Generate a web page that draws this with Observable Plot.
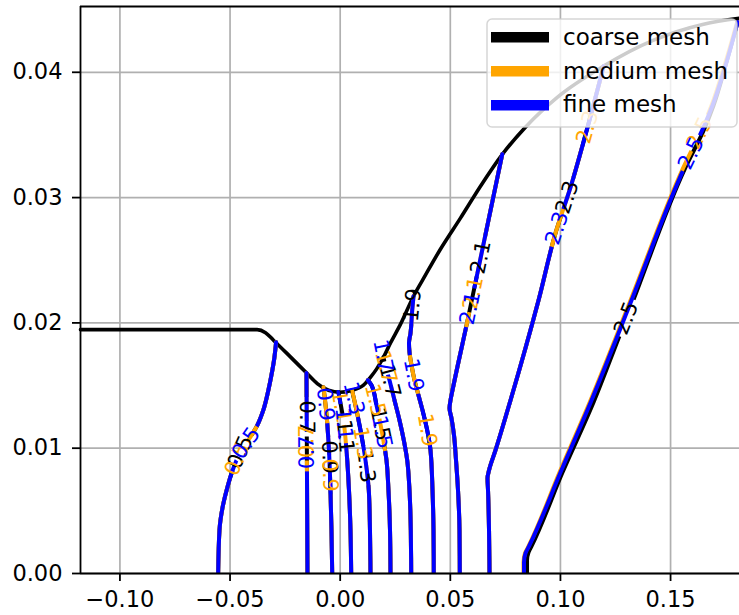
<!DOCTYPE html>
<html>
<head>
<meta charset="utf-8">
<script src="https://cdn.jsdelivr.net/npm/d3@7"></script>
<script src="https://cdn.jsdelivr.net/npm/@observablehq/plot@0.6"></script>
<style>
  body { margin: 0; background: #fff; }
  svg { display: block; }
</style>
</head>
<body>
<div id="chart"></div>
<script>
// Axis extents and ticks
const xDomain = [-0.1179, 0.1813];
const yDomain = [0, 0.04525];
const xTicks = [-0.10, -0.05, 0.00, 0.05, 0.10, 0.15];
const xTickLabels = ["−0.10", "−0.05", "0.00", "0.05", "0.10", "0.15"];
const yTicks = [0.00, 0.01, 0.02, 0.03, 0.04];
const yTickLabels = ["0.00", "0.01", "0.02", "0.03", "0.04"];

// Meshes compared in the legend
const meshNames = ["coarse mesh", "medium mesh", "fine mesh"];
const meshColors = ["black", "orange", "blue"];

// Nozzle wall (x, r)
const wall = [
  [-0.1179, 0.01946], [-0.0377, 0.01946], [-0.0339, 0.01922], [-0.0303, 0.01862],
  [-0.0226, 0.01729], [-0.0150, 0.01596], [-0.0104, 0.01516], [-0.0053, 0.01463],
  [0.0000, 0.01447], [0.0047, 0.01459], [0.0106, 0.01503], [0.0138, 0.01567],
  [0.0165, 0.01631], [0.0192, 0.01710], [0.0228, 0.01838], [0.0274, 0.01990],
  [0.0333, 0.02213], [0.0387, 0.02381], [0.0455, 0.02588], [0.0546, 0.02836],
  [0.0637, 0.03091], [0.0737, 0.03347], [0.0841, 0.03562], [0.0987, 0.03802],
  [0.1196, 0.04049], [0.1423, 0.04256], [0.1650, 0.04384], [0.1813, 0.04432]
];

// Mach number iso-lines (x, r), ordered from the axis up to the wall
const mach05 = [[-0.0554, 0], [-0.0548, 0.00346], [-0.0532, 0.00545], [-0.0512, 0.00689], [-0.0485, 0.00840],
  [-0.0449, 0.00984], [-0.0408, 0.01088], [-0.0376, 0.01184], [-0.0349, 0.01304], [-0.0326, 0.01463],
  [-0.0313, 0.01575], [-0.0299, 0.01719], [-0.0291, 0.01845]];
const mach07 = [[-0.01485, 0], [-0.01508, 0.00824], [-0.0153, 0.0160]];
const mach09 = [[-0.00363, 0], [-0.00395, 0.00346], [-0.00441, 0.00664], [-0.00509, 0.00984],
  [-0.00599, 0.01223], [-0.00713, 0.01423], [-0.00758, 0.01487]];
const mach11 = [[0.0050, 0], [0.00468, 0.00346], [0.0040, 0.00664], [0.00286, 0.00984],
  [0.0015, 0.01223], [-0.0001, 0.01383], [-0.0008, 0.01448]];
const mach13 = [[0.01376, 0], [0.01353, 0.00346], [0.0130, 0.00664], [0.01149, 0.00904],
  [0.00922, 0.01144], [0.0074, 0.01304], [0.00536, 0.01463]];
const mach15 = [[0.02284, 0], [0.02262, 0.00346], [0.02193, 0.00664], [0.02103, 0.00904],
  [0.01921, 0.01104], [0.01649, 0.01343], [0.01421, 0.01503], [0.01262, 0.01543]];
const mach17 = [[0.03224, 0], [0.03206, 0.00346], [0.03147, 0.00664], [0.03043, 0.00904],
  [0.02888, 0.01064], [0.02693, 0.01223], [0.02466, 0.01383], [0.02239, 0.01543],
  [0.02012, 0.01686], [0.01966, 0.01726]];
const mach19 = [[0.0425, 0], [0.04237, 0.00346], [0.04192, 0.00664], [0.04101, 0.00984],
  [0.0395, 0.01144], [0.03738, 0.01303], [0.03556, 0.01423], [0.03374, 0.01543],
  [0.03238, 0.01663], [0.03147, 0.01767], [0.03124, 0.01838], [0.03193, 0.01918],
  [0.0327, 0.02101], [0.0333, 0.02213]];
const mach21 = [[0.05431, 0], [0.05418, 0.00346], [0.0535, 0.00664], [0.05259, 0.00904],
  [0.05168, 0.01104], [0.05054, 0.01239], [0.04964, 0.01319], [0.05009, 0.01383],
  [0.0510, 0.01463], [0.05767, 0.02006], [0.0736, 0.03347]];
const mach23 = [[0.0678, 0], [0.06758, 0.00346], [0.06712, 0.00664], [0.06689, 0.0076],
  [0.06758, 0.00824], [0.07053, 0.00984], [0.07734, 0.01383], [0.09006, 0.02181],
  [0.09777, 0.02716], [0.10459, 0.03083], [0.11231, 0.03562], [0.1196, 0.04049]];
const mach25Fine = [[0.08347, 0], [0.08347, 0.0009], [0.08415, 0.00162], [0.08574, 0.00218],
  [0.10005, 0.00808], [0.11413, 0.01383], [0.12548, 0.01878], [0.13229, 0.02181],
  [0.15636, 0.03243], [0.16499, 0.03562], [0.16907, 0.03737], [0.17498, 0.04056], [0.18043, 0.0440]];
const mach25Medium = [[0.08324, 0], [0.08324, 0.0009], [0.08392, 0.00162], [0.08551, 0.00218],
  [0.09959, 0.00808], [0.11367, 0.01383], [0.12503, 0.01878], [0.13184, 0.02181],
  [0.1559, 0.03243], [0.16453, 0.03562], [0.16862, 0.03737], [0.17452, 0.04056], [0.1802, 0.0440]];
const mach25Coarse = [[0.08483, 0], [0.08483, 0.00106], [0.08551, 0.0017], [0.08688, 0.00218],
  [0.10096, 0.00808], [0.11503, 0.01367], [0.12639, 0.01878], [0.13275, 0.02165],
  [0.15682, 0.03243], [0.16545, 0.03554], [0.16953, 0.03737], [0.17498, 0.04056], [0.18043, 0.0440]];

const sharedLines = [[0.5, mach05], [0.7, mach07], [0.9, mach09], [1.1, mach11], [1.3, mach13],
  [1.5, mach15], [1.7, mach17], [1.9, mach19], [2.1, mach21], [2.3, mach23]];
const coarseLines = [...sharedLines, [2.5, mach25Coarse]];
const mediumLines = [...sharedLines, [2.5, mach25Medium]];
const fineLines = [...sharedLines, [2.5, mach25Fine]];

// Inline contour labels: [level, r at label centre, read the other way]
const coarseLabels = [[0.5, 0.00968], [0.7, 0.01247], [0.9, 0.00928], [1.1, 0.01096], [1.3, 0.00856],
  [1.5, 0.01192], [1.7, 0.01535], [1.9, 0.02143], [2.1, 0.02524], [2.3, 0.03003], [2.5, 0.02038]];
const mediumLabels = [[0.5, 0.00912], [0.7, 0.01055, true], [0.9, 0.00785], [1.1, 0.01335], [1.3, 0.0104],
  [1.5, 0.01383], [1.7, 0.01647], [1.9, 0.01144], [2.1, 0.02237], [2.3, 0.03562], [2.5, 0.03513]];
const fineLabels = [[0.5, 0.0104], [0.7, 0.00968, true], [0.9, 0.01351], [1.1, 0.01192], [1.3, 0.01399],
  [1.5, 0.01128], [1.7, 0.01735], [1.9, 0.01583], [2.1, 0.02118], [2.3, 0.02756], [2.5, 0.03353]];

const W = 739, H = 615;
const M = {top: 6, right: 0, bottom: 42, left: 80};

const sx = Plot.scale({x: {domain: xDomain, range: [M.left, W - M.right]}});
const sy = Plot.scale({y: {domain: yDomain, range: [H - M.bottom, M.top]}});

function rows(lines) {
  return lines.flatMap(([level, pts]) => pts.map(([x, y]) => ({level, x, y})));
}

// Put each label on its line and turn it along the local direction
function placeLabels(lines, labels) {
  return labels.map(([level, y, flip]) => {
    const pts = lines.find((l) => l[0] === level)[1];
    let i = 1;
    while (i < pts.length - 1 && pts[i][1] < y) i++;
    const [x0, y0] = pts[i - 1], [x1, y1] = pts[i];
    const t = (y - y0) / (y1 - y0);
    const x = x0 + t * (x1 - x0);
    const dx = sx.apply(x1) - sx.apply(x0);
    const dy = sy.apply(y1) - sy.apply(y0);
    let a = Math.atan2(dy, dx) * 180 / Math.PI;
    if (a > 90) a -= 180;
    if (a < -90) a += 180;
    if (flip) a += a > 0 ? -180 : 180;
    return {level, x, y, text: String(level), rotate: a};
  });
}

const meshLines = [coarseLines, mediumLines, fineLines];
const meshLabels = [coarseLabels, mediumLabels, fineLabels];

const gridStyle = {stroke: "#b0b0b0", strokeOpacity: 1, strokeWidth: 1.7};

const plot = Plot.plot({
  width: W,
  height: H,
  marginTop: M.top,
  marginRight: M.right,
  marginBottom: M.bottom,
  marginLeft: M.left,
  style: {fontFamily: "DejaVu Sans", background: "white", overflow: "visible"},
  x: {domain: xDomain},
  y: {domain: yDomain},
  marks: [
    Plot.gridX(xTicks, gridStyle),
    Plot.gridY(yTicks, gridStyle),
    Plot.line(wall, {x: (d) => d[0], y: (d) => d[1], stroke: "black", strokeWidth: 3.6, curve: "monotone-x"}),
    ...meshLines.map((lines, k) =>
      Plot.line(rows(lines), {x: "x", y: "y", z: "level", stroke: meshColors[k], strokeWidth: 4, curve: "monotone-y", clip: true})
    ),
    ...meshLabels.map((labels, k) =>
      Plot.text(placeLabels(meshLines[k], labels), {x: "x", y: "y", text: "text", rotate: "rotate", fill: meshColors[k], fontSize: 21})
    ),
    Plot.ruleX([xDomain[0]], {stroke: "black", strokeWidth: 1.8}),
    Plot.ruleY([yDomain[0]], {stroke: "black", strokeWidth: 1.8}),
    Plot.ruleY([yDomain[1]], {stroke: "black", strokeWidth: 1.8}),
    Plot.axisX(xTicks, {tickFormat: (d) => xTickLabels[xTicks.indexOf(d)], tickSize: 8, tickPadding: 10, fontSize: 22.5, strokeWidth: 1.8, label: null}),
    Plot.axisY(yTicks, {tickFormat: (d) => yTickLabels[yTicks.indexOf(d)], tickSize: 8, tickPadding: 10, fontSize: 22.5, strokeWidth: 1.8, label: null})
  ]
});

document.getElementById("chart").append(plot);

// Break each mesh's lines where its own labels sit
const svg = d3.select(plot);
const lineGroups = svg.selectAll('g[aria-label="line"]').nodes();
const textGroups = svg.selectAll('g[aria-label="text"]').nodes();
const defs = svg.append("defs");
const pad = 3;
textGroups.forEach((tg, k) => {
  const mask = defs.append("mask")
    .attr("id", `label-gap-${k}`)
    .attr("maskUnits", "userSpaceOnUse")
    .attr("x", 0).attr("y", 0).attr("width", W).attr("height", H);
  mask.append("rect").attr("x", 0).attr("y", 0).attr("width", W).attr("height", H).attr("fill", "white");
  d3.select(tg).selectAll("text").each(function () {
    const b = this.getBBox();
    mask.append("rect")
      .attr("x", b.x - pad).attr("y", b.y)
      .attr("width", b.width + 2 * pad).attr("height", b.height)
      .attr("transform", this.getAttribute("transform"))
      .attr("fill", "black");
  });
  d3.select(lineGroups[k + 1]).attr("mask", `url(#label-gap-${k})`);
});

// Legend box in the upper right corner
const legend = svg.append("g")
  .attr("font-family", "DejaVu Sans")
  .attr("text-anchor", "start");
legend.append("rect")
  .attr("x", 487).attr("y", 19).attr("width", 250).attr("height", 108).attr("rx", 5)
  .attr("fill", "white").attr("fill-opacity", 0.8)
  .attr("stroke", "#cccccc").attr("stroke-opacity", 0.8).attr("stroke-width", 1.5);
meshNames.forEach((name, i) => {
  legend.append("rect")
    .attr("x", 491).attr("y", 32 + i * 34).attr("width", 58).attr("height", 10.5)
    .attr("fill", meshColors[i]);
  legend.append("text")
    .attr("x", 563).attr("y", 45 + i * 33.5)
    .attr("text-anchor", "start")
    .style("font-size", "23px")
    .attr("fill", "black")
    .text(name);
});
</script>
</body>
</html>
